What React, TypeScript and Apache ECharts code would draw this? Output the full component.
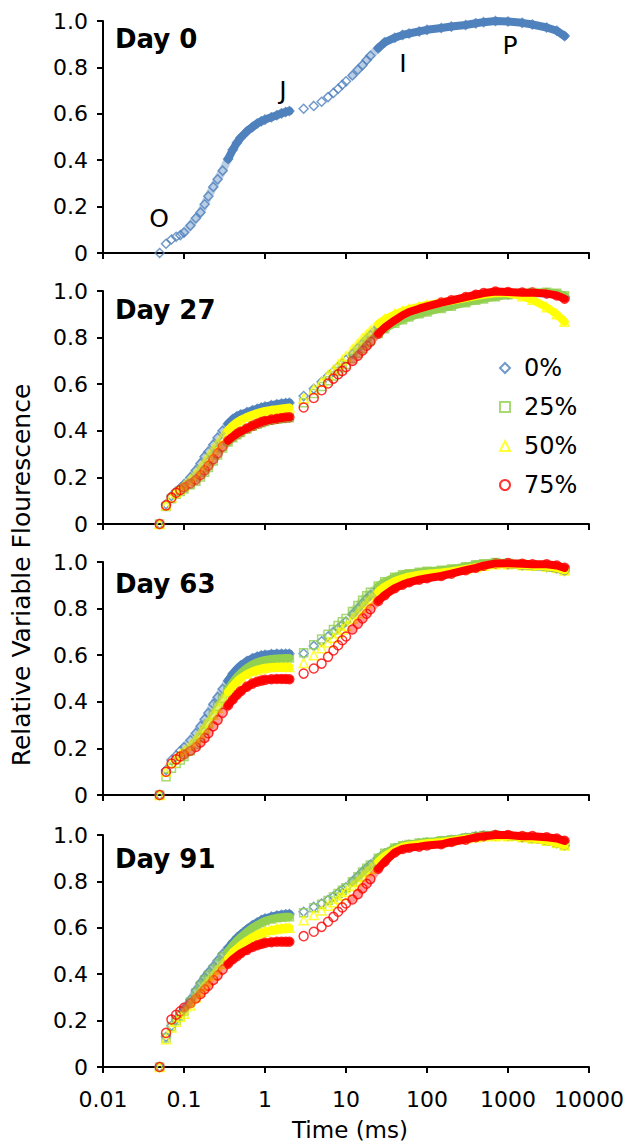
import React, { useEffect, useRef } from "react";
import * as echarts from "echarts";

// Time (ms) of every measured point shown
const TIME_MS = [
  0.05, 0.06, 0.07, 0.08, 0.09, 0.1, 0.12, 0.14, 0.16, 0.18,
  0.2, 0.23, 0.26, 0.3, 0.35, 0.4, 0.45, 0.5, 0.6, 0.7,
  0.8, 0.9, 1.0, 1.2, 1.4, 1.6, 1.8, 2.0,
  3, 4, 5, 6, 7, 8, 9, 10, 12, 14,
  16, 18, 20, 25, 30, 40, 50, 60, 80, 100,
  150, 200, 300, 400, 500, 700, 1000, 1500, 2000, 3000,
  4000, 5000,
];

// Day 0
const DAY0_0 = [
  0, 0.04, 0.058, 0.07, 0.077, 0.088, 0.118, 0.15, 0.175, 0.21,
  0.245, 0.285, 0.318, 0.355, 0.405, 0.445, 0.475, 0.497, 0.525, 0.543,
  0.558, 0.568, 0.575, 0.585, 0.594, 0.602, 0.608, 0.612,
  0.622, 0.634, 0.652, 0.672, 0.69, 0.708, 0.725, 0.74, 0.765, 0.79,
  0.81, 0.832, 0.85, 0.883, 0.908, 0.928, 0.94, 0.946, 0.955, 0.962,
  0.97, 0.976, 0.983, 0.99, 0.995, 1.0, 0.998, 0.992, 0.985, 0.972,
  0.958, 0.935,
];

// Day 27
const DAY27_0 = [
  0, 0.085, 0.12, 0.14, 0.155, 0.17, 0.2, 0.23, 0.26, 0.29,
  0.31, 0.34, 0.37, 0.4, 0.43, 0.45, 0.462, 0.47, 0.48, 0.488,
  0.494, 0.5, 0.504, 0.51, 0.514, 0.517, 0.519, 0.52,
  0.549, 0.58, 0.61, 0.635, 0.655, 0.675, 0.69, 0.705, 0.73, 0.755,
  0.775, 0.795, 0.81, 0.845, 0.865, 0.89, 0.905, 0.915, 0.925, 0.93,
  0.94, 0.95, 0.96, 0.968, 0.974, 0.98, 0.985, 0.99, 0.99, 0.99,
  0.985, 0.975,
];
const DAY27_25 = [
  0, 0.075, 0.108, 0.128, 0.14, 0.15, 0.168, 0.184, 0.202, 0.222,
  0.242, 0.27, 0.296, 0.326, 0.352, 0.37, 0.383, 0.393, 0.408, 0.419,
  0.428, 0.435, 0.44, 0.446, 0.45, 0.453, 0.455, 0.456,
  0.52, 0.56, 0.59, 0.615, 0.635, 0.655, 0.67, 0.685, 0.71, 0.733,
  0.753, 0.772, 0.788, 0.818, 0.838, 0.862, 0.877, 0.888, 0.902, 0.91,
  0.925, 0.935, 0.95, 0.96, 0.966, 0.975, 0.984, 0.99, 0.994, 0.995,
  0.99, 0.98,
];
const DAY27_50 = [
  0, 0.08, 0.115, 0.135, 0.15, 0.163, 0.19, 0.215, 0.24, 0.265,
  0.288, 0.318, 0.345, 0.375, 0.403, 0.423, 0.437, 0.447, 0.46, 0.469,
  0.476, 0.481, 0.485, 0.49, 0.493, 0.496, 0.498, 0.5,
  0.54, 0.578, 0.61, 0.64, 0.662, 0.685, 0.703, 0.72, 0.748, 0.773,
  0.795, 0.812, 0.828, 0.858, 0.878, 0.9, 0.913, 0.922, 0.933, 0.94,
  0.95, 0.958, 0.97, 0.978, 0.984, 0.99, 0.99, 0.978, 0.962, 0.93,
  0.9, 0.868,
];
const DAY27_75 = [
  0, 0.08, 0.113, 0.134, 0.146, 0.157, 0.174, 0.19, 0.21, 0.23,
  0.25, 0.278, 0.303, 0.333, 0.358, 0.375, 0.387, 0.396, 0.41, 0.421,
  0.43, 0.437, 0.442, 0.448, 0.452, 0.455, 0.457, 0.458,
  0.5, 0.541, 0.574, 0.603, 0.624, 0.643, 0.657, 0.674, 0.7, 0.722,
  0.745, 0.765, 0.782, 0.817, 0.843, 0.874, 0.896, 0.91, 0.924, 0.934,
  0.95, 0.96, 0.974, 0.984, 0.991, 0.998, 0.996, 0.993, 0.993, 0.989,
  0.981, 0.967,
];

// Day 63
const DAY63_0 = [
  0, 0.107, 0.15, 0.17, 0.19, 0.205, 0.235, 0.265, 0.295, 0.325,
  0.352, 0.39, 0.42, 0.455, 0.49, 0.52, 0.54, 0.555, 0.575, 0.587,
  0.594, 0.599, 0.602, 0.605, 0.606, 0.606, 0.606, 0.606,
  0.607, 0.64, 0.66, 0.68, 0.7, 0.715, 0.73, 0.745, 0.775, 0.8,
  0.823, 0.843, 0.858, 0.888, 0.908, 0.93, 0.94, 0.945, 0.95, 0.955,
  0.96, 0.965, 0.975, 0.983, 0.988, 0.993, 0.99, 0.985, 0.983, 0.978,
  0.972, 0.962,
];
const DAY63_25 = [
  0, 0.078, 0.115, 0.135, 0.15, 0.165, 0.19, 0.218, 0.248, 0.278,
  0.305, 0.345, 0.38, 0.415, 0.453, 0.484, 0.506, 0.523, 0.546, 0.561,
  0.57, 0.576, 0.58, 0.584, 0.586, 0.587, 0.588, 0.588,
  0.61, 0.645, 0.67, 0.69, 0.71, 0.728, 0.744, 0.758, 0.788, 0.813,
  0.836, 0.855, 0.87, 0.897, 0.915, 0.935, 0.945, 0.95, 0.956, 0.96,
  0.965, 0.97, 0.98, 0.988, 0.993, 0.998, 0.995, 0.99, 0.988, 0.983,
  0.978, 0.968,
];
const DAY63_50 = [
  0, 0.1, 0.138, 0.158, 0.175, 0.188, 0.212, 0.238, 0.265, 0.29,
  0.313, 0.345, 0.375, 0.408, 0.442, 0.468, 0.488, 0.502, 0.52, 0.531,
  0.538, 0.543, 0.546, 0.549, 0.55, 0.55, 0.55, 0.549,
  0.567, 0.6, 0.63, 0.655, 0.675, 0.695, 0.71, 0.725, 0.755, 0.78,
  0.803, 0.823, 0.84, 0.873, 0.895, 0.918, 0.93, 0.938, 0.945, 0.95,
  0.955, 0.96, 0.97, 0.978, 0.984, 0.99, 0.99, 0.986, 0.984, 0.98,
  0.974, 0.964,
];
const DAY63_75 = [
  0, 0.1, 0.135, 0.153, 0.165, 0.174, 0.19, 0.206, 0.225, 0.245,
  0.265, 0.295, 0.322, 0.353, 0.385, 0.41, 0.43, 0.445, 0.465, 0.478,
  0.486, 0.491, 0.494, 0.497, 0.498, 0.498, 0.498, 0.497,
  0.521, 0.543, 0.564, 0.593, 0.62, 0.643, 0.664, 0.68, 0.71, 0.735,
  0.758, 0.778, 0.797, 0.833, 0.858, 0.888, 0.903, 0.913, 0.924, 0.93,
  0.94, 0.95, 0.965, 0.975, 0.984, 0.994, 0.995, 0.992, 0.99, 0.99,
  0.985, 0.975,
];

// Day 91
const DAY91_0 = [
  0, 0.13, 0.178, 0.205, 0.228, 0.248, 0.29, 0.33, 0.362, 0.387,
  0.407, 0.433, 0.458, 0.487, 0.513, 0.537, 0.556, 0.571, 0.594, 0.611,
  0.623, 0.633, 0.64, 0.648, 0.653, 0.656, 0.658, 0.659,
  0.669, 0.69, 0.705, 0.72, 0.735, 0.75, 0.765, 0.775, 0.8, 0.822,
  0.842, 0.858, 0.872, 0.9, 0.92, 0.943, 0.953, 0.958, 0.964, 0.968,
  0.974, 0.979, 0.988, 0.994, 0.998, 1.0, 0.996, 0.99, 0.985, 0.975,
  0.965, 0.955,
];
const DAY91_25 = [
  0, 0.125, 0.175, 0.2, 0.22, 0.24, 0.28, 0.32, 0.35, 0.375,
  0.395, 0.42, 0.445, 0.475, 0.5, 0.525, 0.545, 0.56, 0.583, 0.6,
  0.612, 0.622, 0.63, 0.638, 0.643, 0.646, 0.648, 0.648,
  0.665, 0.686, 0.702, 0.718, 0.733, 0.748, 0.762, 0.773, 0.798, 0.82,
  0.84, 0.857, 0.871, 0.9, 0.921, 0.944, 0.954, 0.959, 0.965, 0.969,
  0.975, 0.98, 0.988, 0.994, 0.998, 1.0, 0.997, 0.991, 0.986, 0.977,
  0.967, 0.957,
];
const DAY91_50 = [
  0, 0.12, 0.17, 0.195, 0.215, 0.23, 0.265, 0.3, 0.325, 0.35,
  0.37, 0.395, 0.42, 0.445, 0.47, 0.495, 0.51, 0.525, 0.545, 0.56,
  0.57, 0.578, 0.583, 0.59, 0.595, 0.598, 0.6, 0.6,
  0.633, 0.655, 0.675, 0.695, 0.71, 0.725, 0.74, 0.755, 0.78, 0.8,
  0.82, 0.84, 0.855, 0.885, 0.91, 0.935, 0.95, 0.955, 0.96, 0.965,
  0.97, 0.975, 0.985, 0.99, 0.995, 0.995, 0.995, 0.99, 0.985, 0.975,
  0.965, 0.955,
];
const DAY91_75 = [
  0, 0.147, 0.205, 0.225, 0.24, 0.255, 0.275, 0.295, 0.315, 0.335,
  0.35, 0.375, 0.395, 0.42, 0.445, 0.465, 0.478, 0.49, 0.505, 0.517,
  0.525, 0.53, 0.535, 0.538, 0.54, 0.54, 0.54, 0.54,
  0.564, 0.583, 0.604, 0.626, 0.647, 0.669, 0.688, 0.705, 0.722, 0.745,
  0.77, 0.79, 0.81, 0.855, 0.885, 0.925, 0.94, 0.945, 0.95, 0.955,
  0.96, 0.97, 0.98, 0.99, 0.995, 1.0, 1.0, 0.995, 0.995, 0.99,
  0.985, 0.975,
];

const SHADE_NAMES = ["0%", "25%", "50%", "75%"];
const PANEL_TITLES = ["Day 0", "Day 27", "Day 63", "Day 91"];
const PANEL_SERIES = [
  [DAY0_0],
  [DAY27_0, DAY27_25, DAY27_50, DAY27_75],
  [DAY63_0, DAY63_25, DAY63_50, DAY63_75],
  [DAY91_0, DAY91_25, DAY91_50, DAY91_75],
];
const X_TICK_LABELS = ["0.01", "0.1", "1", "10", "100", "1000", "10000"];
const Y_TICK_LABELS = ["0", "0.2", "0.4", "0.6", "0.8", "1.0"];
const PHASE_LABELS = ["O", "J", "I", "P"];

// styling
const COLORS = ["#4F81BD", "#92D050", "#FFFF00", "#FF0000"];
const SYMBOLS = ["diamond", "rect", "triangle", "circle"];
const SYMBOL_SIZES = [9, 8, 9, 9];
const FONT = "DejaVu Sans";
const GRID_TOPS = [21, 291, 562, 835];
const GRID_HEIGHTS = [232, 233, 233, 232];
const TITLE_Y = [42, 313, 587, 862];
const PHASE_POS = [
  [159, 218],
  [283, 90],
  [403, 63],
  [510, 45],
];
// time windows (ms) where the recorded points are packed so tightly that they merge
const SOLID_WINDOWS = [
  [0.35, 2],
  [25, 5000],
];
const HATCHED_WINDOWS = [
  [0.1, 0.35],
  [12, 25],
];

function buildOption() {
  const grid: any[] = [];
  const xAxis: any[] = [];
  const yAxis: any[] = [];
  const series: any[] = [];

  PANEL_SERIES.forEach((panel, p) => {
    grid.push({ left: 103, width: 486, top: GRID_TOPS[p], height: GRID_HEIGHTS[p] });
    xAxis.push({
      type: "log",
      gridIndex: p,
      logBase: 10,
      min: 0.01,
      max: 10000,
      splitNumber: 6,
      axisLine: { show: true, onZero: false, lineStyle: { color: "#000", width: 2 } },
      axisTick: { show: true, inside: false, length: 6, lineStyle: { color: "#000", width: 2 } },
      axisLabel: {
        show: p === 3,
        color: "#000",
        fontFamily: FONT,
        fontSize: 22,
        margin: 21,
        formatter: (v: number) => X_TICK_LABELS[Math.round(Math.log10(v)) + 2],
      },
      splitLine: { show: false },
      minorTick: { show: false },
    });
    yAxis.push({
      type: "value",
      gridIndex: p,
      min: 0,
      max: 1,
      interval: 0.2,
      axisLine: { show: true, lineStyle: { color: "#000", width: 2 } },
      axisTick: { show: true, inside: false, length: 6, lineStyle: { color: "#000", width: 2 } },
      axisLabel: {
        color: "#000",
        fontFamily: FONT,
        fontSize: 22,
        margin: 15,
        formatter: (v: number) => Y_TICK_LABELS[Math.round(v * 5)],
      },
      splitLine: { show: false },
    });

    panel.forEach((vals, s) => {
      const pts = TIME_MS.map((t, i) => [t, vals[i]]);
      const addBand = (win: number[], opacity: number, tag: string) => {
        series.push({
          type: "line",
          name: SHADE_NAMES[s] + tag,
          xAxisIndex: p,
          yAxisIndex: p,
          data: pts.filter((d) => d[0] >= win[0] && d[0] <= win[1]),
          showSymbol: false,
          symbol: "none",
          clip: false,
          silent: true,
          lineStyle: { color: COLORS[s], width: 8, opacity, cap: "round", join: "round" },
        });
      };
      HATCHED_WINDOWS.forEach((w, k) => addBand(w, 0.4, " hatch " + k));
      SOLID_WINDOWS.forEach((w, k) => addBand(w, 1, " band " + k));
      series.push({
        type: "scatter",
        name: SHADE_NAMES[s],
        xAxisIndex: p,
        yAxisIndex: p,
        data: pts,
        symbol: SYMBOLS[s],
        symbolSize: SYMBOL_SIZES[s],
        clip: false,
        itemStyle: { color: "rgba(0,0,0,0)", borderColor: COLORS[s], borderWidth: 1.5 },
      });
    });
  });

  const graphic: any[] = [];
  PANEL_TITLES.forEach((title, p) => {
    graphic.push({
      type: "text",
      left: 115,
      top: TITLE_Y[p] - 16,
      style: {
        text: title,
        fontFamily: FONT,
        fontSize: 26,
        fontWeight: "bold",
        fill: "#000",
      },
    });
  });
  PHASE_LABELS.forEach((lab, i) => {
    graphic.push({
      type: "text",
      x: PHASE_POS[i][0],
      y: PHASE_POS[i][1],
      style: {
        text: lab,
        fontFamily: FONT,
        fontSize: 25,
        fill: "#000",
        textAlign: "center",
        textVerticalAlign: "middle",
      },
    });
  });
  graphic.push({
    type: "text",
    x: 350,
    y: 1130,
    style: {
      text: "Time (ms)",
      fontFamily: FONT,
      fontSize: 23,
      fill: "#000",
      textAlign: "center",
      textVerticalAlign: "middle",
    },
  });
  graphic.push({
    type: "text",
    x: 21,
    y: 575,
    rotation: Math.PI / 2,
    style: {
      text: "Relative Variable Flourescence",
      fontFamily: FONT,
      fontSize: 25,
      fill: "#000",
      textAlign: "center",
      textVerticalAlign: "middle",
    },
  });

  return {
    animation: false,
    backgroundColor: "#fff",
    grid,
    xAxis,
    yAxis,
    series,
    graphic,
    legend: {
      orient: "vertical",
      left: 499,
      top: 356,
      padding: 0,
      itemWidth: 10,
      itemHeight: 10,
      itemGap: 15,
      textStyle: {
        fontFamily: FONT,
        fontSize: 24,
        color: "#000",
        lineHeight: 24,
        padding: [0, 0, 0, 9],
      },
      data: SHADE_NAMES.map((n, s) => ({
        name: n,
        icon: SYMBOLS[s],
        itemStyle: { color: "rgba(0,0,0,0)", borderColor: COLORS[s], borderWidth: 2 },
      })),
    },
  };
}

export default function App() {
  const ref = useRef<HTMLDivElement>(null);
  useEffect(() => {
    if (!ref.current) return;
    const chart = echarts.init(ref.current, undefined, { renderer: "svg" });
    chart.setOption(buildOption() as any);
    return () => chart.dispose();
  }, []);
  return (
    <div
      ref={ref}
      style={{ position: "absolute", left: 0, top: 0, width: 629, height: 1145, background: "#fff" }}
    />
  );
}
